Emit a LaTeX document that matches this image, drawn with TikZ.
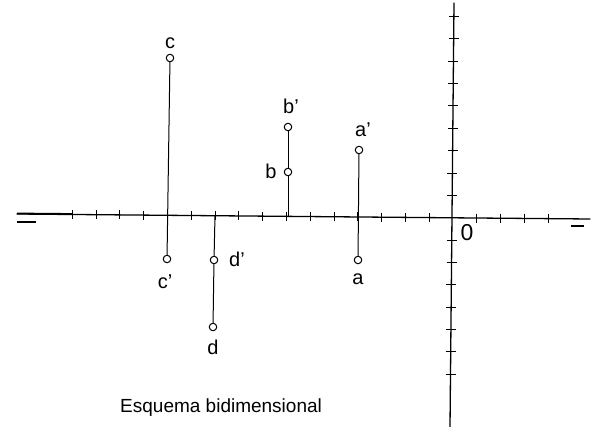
\documentclass[tikz,border=0pt]{standalone}
\usepackage{fontspec}
\setmainfont{Liberation Sans}
\begin{document}
\begin{tikzpicture}[x=1pt,y=-1pt,
  pt/.style={circle,draw,inner sep=0pt,minimum size=7.5pt,line width=1pt,fill=white},
  lbl/.style={inner sep=0pt,font=\fontsize{20}{20}\selectfont},
  axisline/.style={line width=1.3pt,line cap=round},
  tickline/.style={line width=1pt},
  proj/.style={line width=1pt}]
\useasboundingbox (0,0) rectangle (602,427);
% axes
\coordinate (xl) at (17,214);
\coordinate (xr) at (590,219);
\coordinate (yt) at (454,3);
\coordinate (yb) at (450,427);
\draw[axisline] (xl) -- (xr);
\draw[axisline] (yt) -- (yb);
% end marks
\coordinate (l1a) at (17,213.5); \coordinate (l1b) at (72,214);
\coordinate (l2a) at (17,222); \coordinate (l2b) at (36,222);
\coordinate (r1a) at (571,226); \coordinate (r1b) at (584,226);
\draw[line width=1.8pt] (l1a) -- (l1b);
\draw[line width=1.3pt] (l2a) -- (l2b);
\draw[line width=1.3pt] (r1a) -- (r1b);
% horizontal ticks
\foreach \k in {-16,...,-1,1,2,3,4}{
  \pgfmathsetmacro\tx{453+\k*23.8}
  \pgfmathsetmacro\ty{214+(\tx-17)*0.008726}
  \draw[tickline] (\tx,\ty-4.5) -- (\tx,\ty+4.5);
}
% vertical ticks
\foreach \k in {1,...,9}{
  \pgfmathsetmacro\ty{218-\k*22.4}
  \pgfmathsetmacro\tx{454-4*(\ty-3)/424}
  \draw[tickline] (\tx-5,\ty) -- (\tx+5,\ty);
}
\foreach \k in {1,...,7}{
  \pgfmathsetmacro\ty{218+\k*22.3}
  \pgfmathsetmacro\tx{454-4*(\ty-3)/424}
  \draw[tickline] (\tx-5,\ty) -- (\tx+5,\ty);
}
% origin label
\node[inner sep=0pt,font=\fontsize{23}{23}\selectfont] (o) at (467,233) {0};
% points
\coordinate (bx) at (288,216.4);
\coordinate (dx) at (215,215.7);
\node[pt] (c) at (170,58) {};
\node[pt] (c2) at (167,259) {};
\node[pt] (b2) at (288,127) {};
\node[pt] (b) at (288,172) {};
\node[pt] (a2) at (359,150) {};
\node[pt] (a) at (358,260) {};
\node[pt] (d2) at (214,260) {};
\node[pt] (d) at (213,327) {};
% projection lines
\draw[proj] (c) -- (c2);
\draw[proj] (b2) -- (b) -- (bx);
\draw[proj] (a2) -- (a);
\draw[proj] (dx) -- (d2) -- (d);
% labels
\node[lbl] (lc) at (170,43) {c};
\node[lbl] (lc2) at (165,282) {c’};
\node[lbl] (lb2) at (291,106) {b’};
\node[lbl] (lb) at (271,171) {b};
\node[lbl] (la2) at (363,130) {a’};
\node[lbl] (la) at (358,279) {a};
\node[lbl] (ld2) at (237,259) {d’};
\node[lbl] (ld) at (213,347) {d};
\node[lbl,anchor=west,font=\fontsize{19}{19}\selectfont] (cap) at (120,408) {Esquema bidimensional};
\end{tikzpicture}
\end{document}
